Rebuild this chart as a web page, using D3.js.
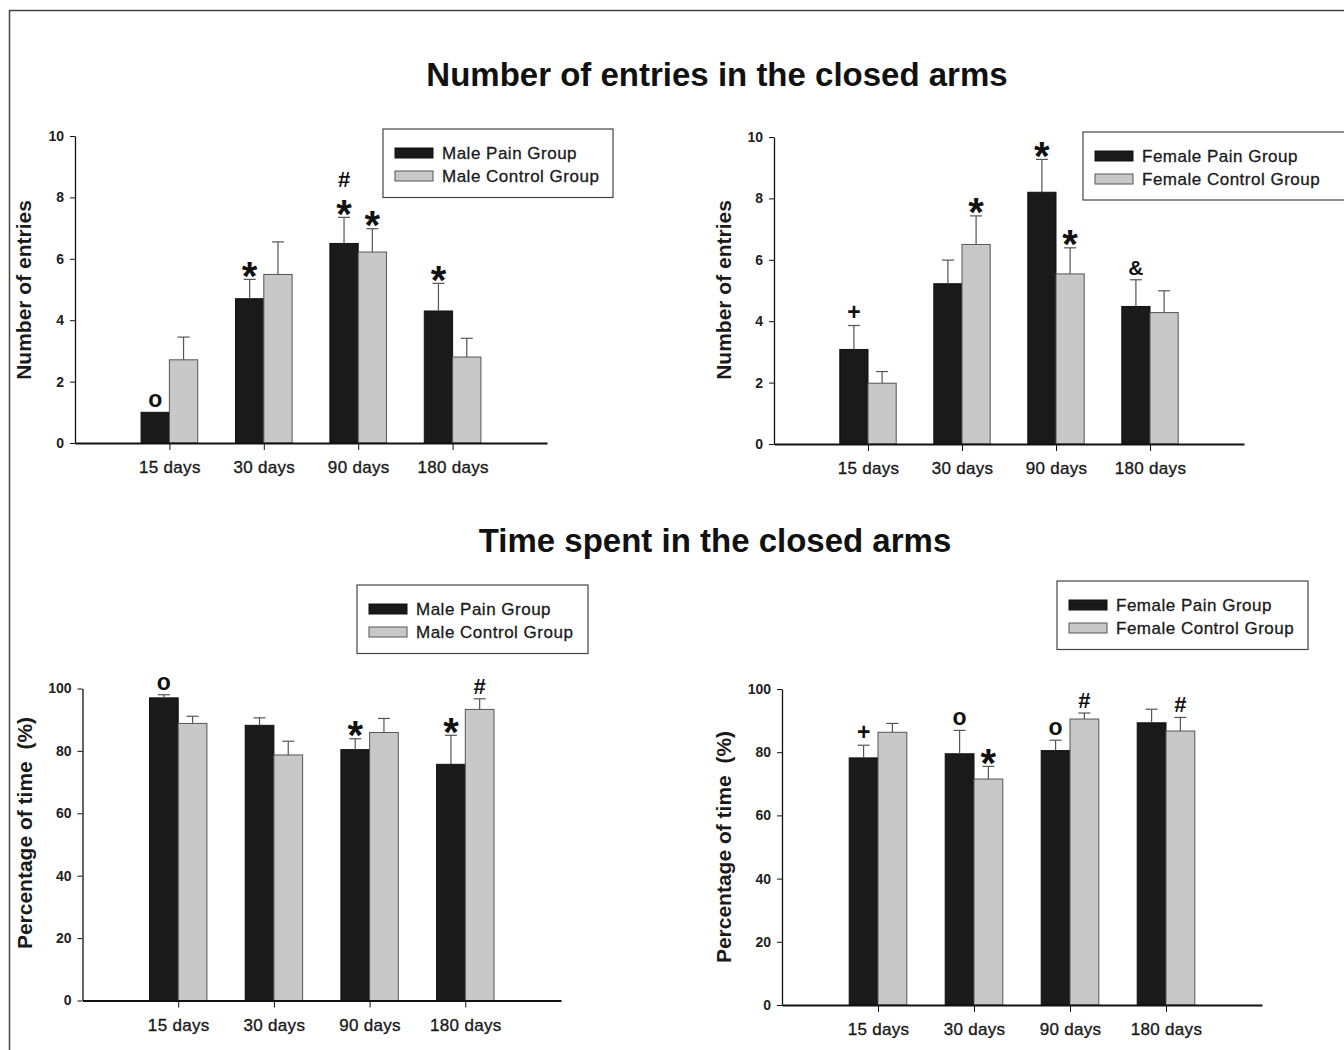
<!DOCTYPE html>
<html>
<head>
<meta charset="utf-8">
<script src="https://cdn.jsdelivr.net/npm/d3@7"></script>
<style>
  body { margin: 0; background: #fff; }
  svg { display: block; font-family: "Liberation Sans", Arial, sans-serif; }
  .tick text { font-family: "Liberation Sans Narrow", "Arial Narrow", "Liberation Sans", sans-serif; }
</style>
</head>
<body>
<script>
// categories
const days = ["15 days", "30 days", "90 days", "180 days"];

// number of entries (mean and SEM)
const entriesMalePain = [1.0, 4.7, 6.5, 4.3];
const entriesMalePainSem = [0, 0.63, 0.85, 0.9];
const entriesMaleCtrl = [2.71, 5.49, 6.22, 2.8];
const entriesMaleCtrlSem = [0.74, 1.06, 0.76, 0.61];
const entriesFemalePain = [3.08, 5.22, 8.2, 4.48];
const entriesFemalePainSem = [0.78, 0.77, 1.07, 0.87];
const entriesFemaleCtrl = [1.98, 6.5, 5.54, 4.28];
const entriesFemaleCtrlSem = [0.38, 0.93, 0.85, 0.71];

// time spent (%)
const timeMalePain = [97.0, 88.2, 80.4, 75.7];
const timeMalePainSem = [1.0, 2.4, 3.5, 9.3];
const timeMaleCtrl = [88.8, 78.7, 85.9, 93.3];
const timeMaleCtrlSem = [2.3, 4.4, 4.5, 3.4];
const timeFemalePain = [78.2, 79.5, 80.5, 89.3];
const timeFemalePainSem = [4.0, 7.4, 3.3, 4.3];
const timeFemaleCtrl = [86.3, 71.5, 90.5, 86.7];
const timeFemaleCtrlSem = [2.8, 4.0, 1.9, 4.3];

// significance marks, bottom to top
const entriesMalePainMarks = [["o"], ["*"], ["*", "#"], ["*"]];
const entriesMaleCtrlMarks = [[], [], ["*"], []];
const entriesFemalePainMarks = [["+"], [], ["*"], ["&"]];
const entriesFemaleCtrlMarks = [[], ["*"], ["*"], []];
const timeMalePainMarks = [["o"], [], ["*"], ["*"]];
const timeMaleCtrlMarks = [[], [], [], ["#"]];
const timeFemalePainMarks = [["+"], ["o"], ["o"], []];
const timeFemaleCtrlMarks = [[], ["*"], ["#"], ["#"]];

const maleNames = ["Male Pain Group", "Male Control Group"];
const femaleNames = ["Female Pain Group", "Female Control Group"];

const titles = ["Number of entries in the closed arms", "Time spent in the closed arms"];

const painColor = "#1a1a1a", ctrlColor = "#c8c8c8";

const panels = [
  {x0: 75, x1: 547, yBase: 443, yTop: 136, max: 10, step: 2, label: "Number of entries", lx: 31, ly: 290,
   legend: {x: 383, y: 129, w: 230, h: 68.5}, names: maleNames,
   pain: entriesMalePain, painSem: entriesMalePainSem, ctrl: entriesMaleCtrl, ctrlSem: entriesMaleCtrlSem,
   painMarks: entriesMalePainMarks, ctrlMarks: entriesMaleCtrlMarks},
  {x0: 774, x1: 1244, yBase: 444, yTop: 137, max: 10, step: 2, label: "Number of entries", lx: 731, ly: 290,
   legend: {x: 1083, y: 132, w: 264, h: 68}, names: femaleNames,
   pain: entriesFemalePain, painSem: entriesFemalePainSem, ctrl: entriesFemaleCtrl, ctrlSem: entriesFemaleCtrlSem,
   painMarks: entriesFemalePainMarks, ctrlMarks: entriesFemaleCtrlMarks},
  {x0: 82.5, x1: 561, yBase: 1000.5, yTop: 688.5, max: 100, step: 20, label: "Percentage of time  (%)", lx: 32, ly: 833,
   legend: {x: 357, y: 585, w: 231, h: 68.5}, names: maleNames,
   pain: timeMalePain, painSem: timeMalePainSem, ctrl: timeMaleCtrl, ctrlSem: timeMaleCtrlSem,
   painMarks: timeMalePainMarks, ctrlMarks: timeMaleCtrlMarks},
  {x0: 782, x1: 1262, yBase: 1005, yTop: 689, max: 100, step: 20, label: "Percentage of time  (%)", lx: 731, ly: 847,
   legend: {x: 1057, y: 581, w: 251, h: 68.5}, names: femaleNames,
   pain: timeFemalePain, painSem: timeFemalePainSem, ctrl: timeFemaleCtrl, ctrlSem: timeFemaleCtrlSem,
   painMarks: timeFemalePainMarks, ctrlMarks: timeFemaleCtrlMarks}
];

// glyph metrics for the marks (size px, glyph bottom above baseline, glyph height, in em)
const markStyle = {
  "*": {size: 40, bottom: 0.39, h: 0.33},
  "o": {size: 23, bottom: 0, h: 0.53},
  "#": {size: 22, bottom: 0, h: 0.72},
  "+": {size: 23, bottom: 0, h: 0.6},
  "&": {size: 21, bottom: 0, h: 0.72}
};

const svg = d3.select("body").append("svg")
  .attr("width", 1344)
  .attr("height", 1050);

// outer frame
svg.append("rect")
  .attr("x", 9.5).attr("y", 10.5)
  .attr("width", 1400).attr("height", 1100)
  .attr("fill", "none").attr("stroke", "#444").attr("stroke-width", 1.5);

svg.selectAll(".title")
  .data(titles)
  .enter().append("text")
  .attr("class", "title")
  .attr("x", (d, i) => i == 0 ? 717 : 715)
  .attr("y", (d, i) => i == 0 ? 86 : 552)
  .attr("text-anchor", "middle")
  .style("font-size", "33px")
  .style("font-weight", "bold")
  .attr("fill", "#111")
  .text(d => d);

panels.forEach(function(p) {
  const g = svg.append("g");

  const x = d3.scalePoint().domain(days).range([p.x0, p.x1]).padding(1);
  const y = d3.scaleLinear().domain([0, p.max]).range([p.yBase, p.yTop]);
  const bw = x.step() * 0.3;

  // y axis
  const yAxis = g.append("g")
    .attr("transform", "translate(" + p.x0 + ",0)")
    .call(d3.axisLeft(y).tickValues(d3.range(0, p.max + 1, p.step)).tickSize(5).tickSizeOuter(0).tickPadding(6));
  yAxis.select(".domain").attr("stroke", "#111").attr("stroke-width", 1.3);
  yAxis.selectAll(".tick line").attr("stroke", "#111");
  yAxis.selectAll(".tick text").style("font-size", "14px").style("font-weight", "bold").attr("fill", "#222");

  // bars
  const rows = days.map((d, i) => ({day: d, i: i}));
  g.selectAll(".pain").data(rows).enter().append("rect")
    .attr("x", d => x(d.day) - bw)
    .attr("y", d => y(p.pain[d.i]))
    .attr("width", bw)
    .attr("height", d => p.yBase - y(p.pain[d.i]))
    .attr("fill", painColor).attr("stroke", "#111").attr("stroke-width", 1);
  g.selectAll(".ctrl").data(rows).enter().append("rect")
    .attr("x", d => x(d.day))
    .attr("y", d => y(p.ctrl[d.i]))
    .attr("width", bw)
    .attr("height", d => p.yBase - y(p.ctrl[d.i]))
    .attr("fill", ctrlColor).attr("stroke", "#555").attr("stroke-width", 1);

  // error bars and marks
  const groups = [
    {vals: p.pain, sem: p.painSem, marks: p.painMarks, off: -bw / 2},
    {vals: p.ctrl, sem: p.ctrlSem, marks: p.ctrlMarks, off: bw / 2}
  ];
  groups.forEach(function(s) {
    rows.forEach(function(d) {
      const cx = x(d.day) + s.off;
      const top = s.vals[d.i] + s.sem[d.i];
      if (s.sem[d.i] > 0) {
        g.append("line")
          .attr("x1", cx).attr("x2", cx)
          .attr("y1", y(s.vals[d.i])).attr("y2", y(top))
          .attr("stroke", "#555").attr("stroke-width", 1.2);
        g.append("line")
          .attr("x1", cx - 6).attr("x2", cx + 6)
          .attr("y1", y(top)).attr("y2", y(top))
          .attr("stroke", "#555").attr("stroke-width", 1.2);
      }
      if (!s.marks[d.i].length) return;
      // stacked marks share one text element
      const t = g.append("text")
        .attr("text-anchor", "middle")
        .style("font-weight", "bold")
        .attr("fill", "#111");
      let cursor = y(top) - 5;
      s.marks[d.i].forEach(function(m) {
        const st = markStyle[m];
        t.append("tspan")
          .attr("x", cx)
          .attr("y", cursor + st.bottom * st.size)
          .style("font-size", st.size + "px")
          .text(m);
        cursor = cursor - st.h * st.size - 12.5;
      });
    });
  });

  // x axis on top of the bars
  const xAxis = g.append("g")
    .attr("transform", "translate(0," + p.yBase + ")")
    .call(d3.axisBottom(x).tickSize(7).tickSizeOuter(0).tickPadding(11));
  xAxis.select(".domain").attr("stroke", "#111").attr("stroke-width", 2);
  xAxis.selectAll(".tick line").attr("stroke", "#111");
  xAxis.selectAll(".tick text")
    .style("font-family", "'Liberation Sans', Arial, sans-serif")
    .style("font-size", "17px").style("letter-spacing", "0.3px")
    .attr("fill", "#1a1a1a").attr("stroke", "#1a1a1a").attr("stroke-width", 0.35);

  // y label
  g.append("text")
    .attr("transform", "translate(" + p.lx + "," + p.ly + ") rotate(-90)")
    .attr("text-anchor", "middle")
    .style("font-size", "21px").style("font-weight", "bold")
    .style("white-space", "pre")
    .attr("fill", "#1a1a1a")
    .text(p.label);

  // legend
  const L = p.legend;
  const lg = g.append("g").attr("transform", "translate(" + L.x + "," + L.y + ")");
  lg.append("rect").attr("width", L.w).attr("height", L.h)
    .attr("fill", "#fff").attr("stroke", "#444").attr("stroke-width", 1.2);
  const items = lg.selectAll(".item").data(p.names).enter().append("g")
    .attr("transform", (d, i) => "translate(12," + (19 + i * 23) + ")");
  items.append("rect")
    .attr("width", 38).attr("height", 10)
    .attr("fill", (d, i) => i == 0 ? painColor : ctrlColor)
    .attr("stroke", (d, i) => i == 0 ? "#111" : "#555").attr("stroke-width", 1);
  items.append("text")
    .attr("x", 47).attr("y", 11)
    .style("font-size", "17px").style("letter-spacing", "0.5px")
    .attr("fill", "#1a1a1a").attr("stroke", "#1a1a1a").attr("stroke-width", 0.3)
    .text(d => d);
});
</script>
</body>
</html>
